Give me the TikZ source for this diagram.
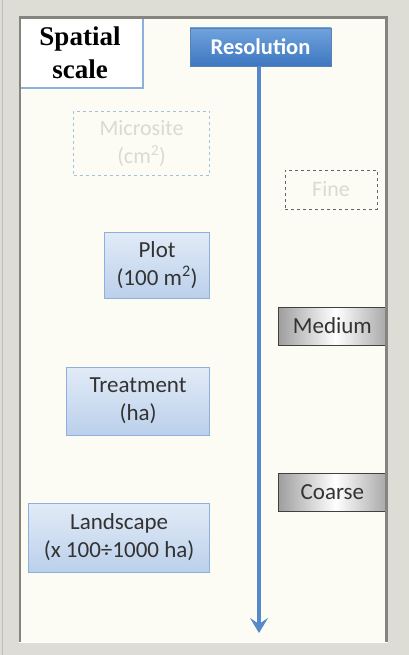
\documentclass[tikz,border=0pt]{standalone}
\usepackage{fontspec}
\setmainfont{Carlito}
\newfontfamily\titlefont{Liberation Serif}
\usetikzlibrary{arrows.meta}
\usetikzlibrary{positioning}

\definecolor{panel}{HTML}{FCFCF5}
\definecolor{frame}{HTML}{DDDCD5}
\definecolor{frameedge}{HTML}{85847F}
\definecolor{boxtop}{HTML}{E2EBF7}
\definecolor{boxbottom}{HTML}{BBD0EB}
\definecolor{boxline}{HTML}{8DB0DC}
\definecolor{restop}{HTML}{6FA3DE}
\definecolor{resbottom}{HTML}{3E77C0}
\definecolor{axisblue}{HTML}{5589CC}
\definecolor{ghost}{HTML}{DADAD2}
\definecolor{textgray}{HTML}{333333}

\tikzset{
    scalebox/.style={rectangle, draw=boxline, line width=0.8pt, top color=boxtop,
        bottom color=boxbottom, text=textgray, align=center, anchor=east,
        font=\fontsize{23}{28}\selectfont, inner sep=0pt},
    levelbox/.style={rectangle, draw=black!75, line width=0.8pt, left color=black!38,
        right color=black!38, middle color=white, text=textgray, anchor=west,
        font=\fontsize{23}{28}\selectfont, inner sep=0pt,
        minimum width=114pt, minimum height=38pt},
    ghostbox/.style={rectangle, dashed, line width=0.9pt, text=ghost, align=center,
        font=\fontsize{22}{28}\selectfont, inner sep=0pt}
}

\begin{document}
\begin{tikzpicture}[x=1pt, y=-1pt]
    \useasboundingbox (0, 0) rectangle (409, 655);
    \fill[panel] (0, 0) rectangle (409, 655);

    % title corner
    \fill[white] (20, 16) rectangle (143, 88);
    \draw (80, 53) node[font=\titlefont\bfseries\fontsize{27}{33}\selectfont, align=center] (title) {Spatial\\scale};
    \draw[boxline, line width=1.2pt] (143, 16) -- (143, 88) -- (20, 88);

    % resolution axis
    \draw (260.5, 47) node[rectangle, draw=restop!80!black, line width=0.6pt, top color=restop,
        bottom color=resbottom, text=white, minimum width=141pt, minimum height=38pt,
        font=\bfseries\fontsize{22.5}{26}\selectfont] (res) {Resolution};
    \coordinate (end) at (259, 633);
    \draw[axisblue, line width=3.2pt, -{Stealth[length=15pt, width=18pt, inset=6pt]}] (res.south -| end) -- (end);

    % spatial levels
    \draw (210, 143) node[ghostbox, draw=boxline!80, anchor=east, minimum width=136pt, minimum height=64pt] (micro) {Microsite\\(cm\textsuperscript{2})};
    \draw (210, 265) node[scalebox, minimum width=105pt, minimum height=66pt] (plot) {Plot\\(100 m\textsuperscript{2})};
    \draw (210, 401) node[scalebox, minimum width=143pt, minimum height=68pt] (treat) {Treatment\\(ha)};
    \draw (210, 537.5) node[scalebox, minimum width=181pt, minimum height=69pt] (land) {Landscape\\(x 100÷1000 ha)};

    % resolution levels
    \draw (331, 189.5) node[ghostbox, draw=black!60, minimum width=92pt, minimum height=39pt] (fine) {Fine};
    \draw (278, 326) node[levelbox] (medium) {\hspace*{-6pt}Medium};
    \draw (278, 492) node[levelbox] (coarse) {\hspace*{-6pt}Coarse};

    % frame round the panel
    \fill[frame, even odd rule] (0, 0) rectangle (409, 655) (19, 16) rectangle (388, 642);
    \draw[frameedge, line width=2.5pt] (20, 642) -- (20, 17.5) -- (386.5, 17.5) -- (386.5, 642);
    \draw[white, line width=1pt] (19, 642.5) -- (388, 642.5);
    \draw[black!25, line width=1pt] (2.5, 0) -- (2.5, 655);
\end{tikzpicture}
\end{document}
